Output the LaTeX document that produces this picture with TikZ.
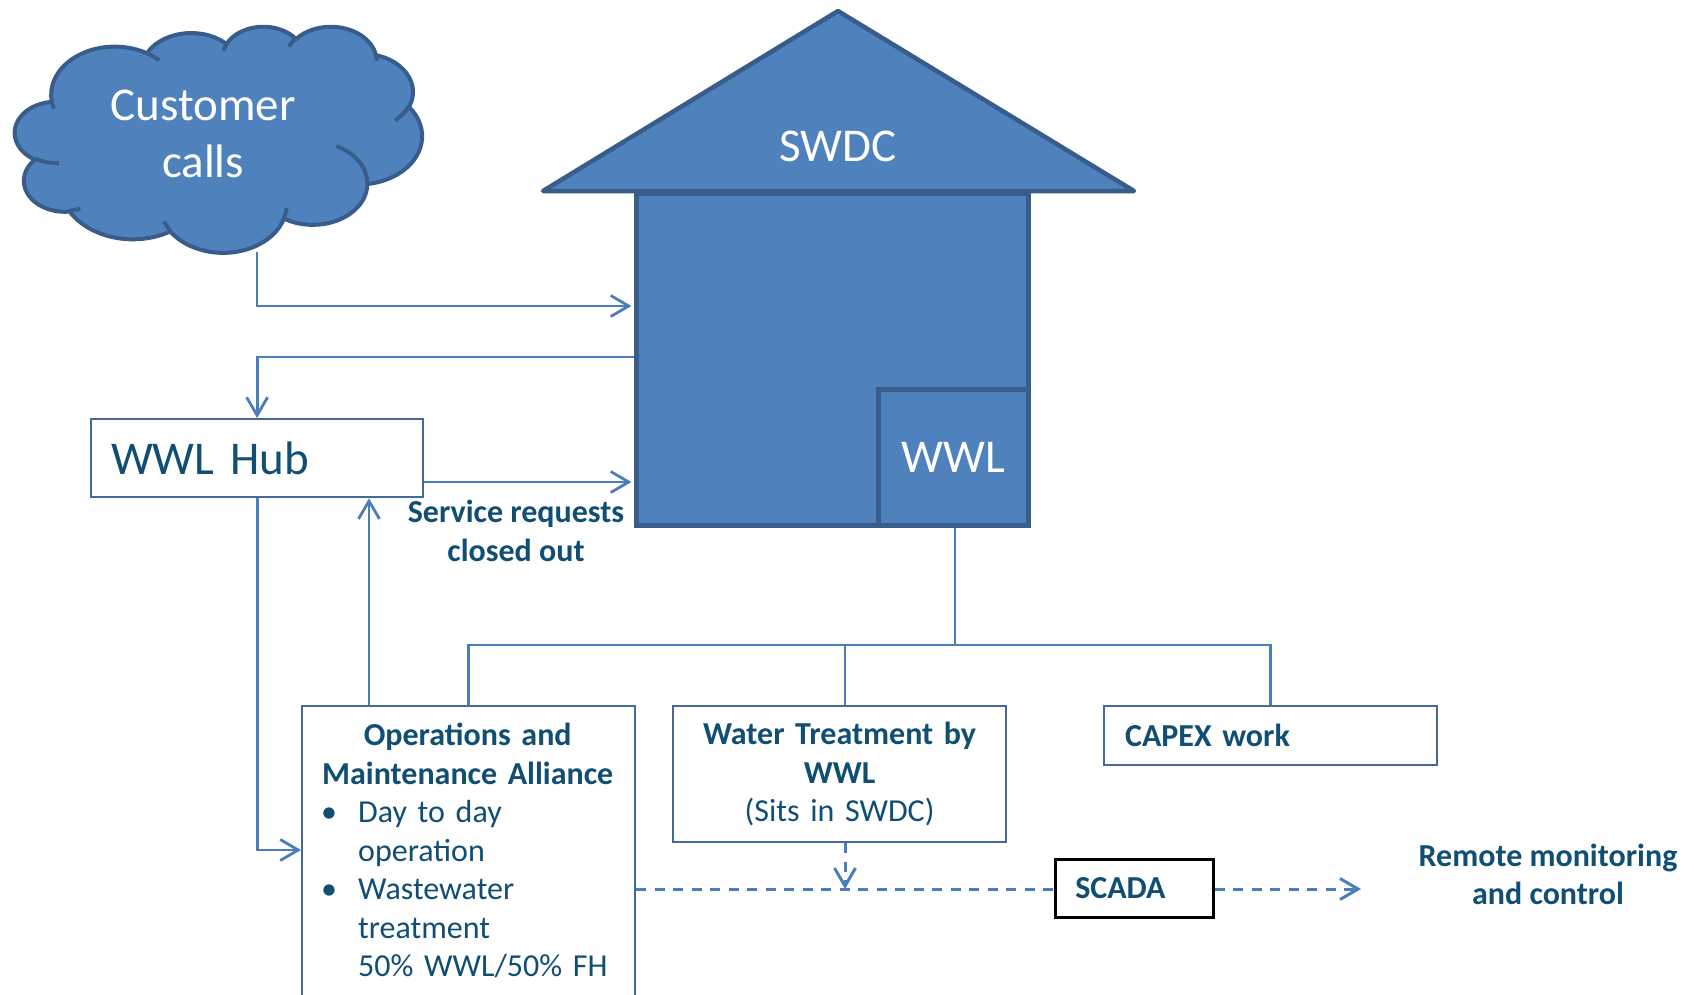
\documentclass[tikz,border=0pt]{standalone}
\usepackage{fontspec}
\setmainfont{Carlito}
\usetikzlibrary{arrows.meta}
\definecolor{shfill}{HTML}{4F81BD}
\definecolor{shline}{HTML}{385D8A}
\definecolor{lncol}{HTML}{4A7EBB}
\definecolor{boxline}{RGB}{70,105,155}
\definecolor{txt}{HTML}{114E73}
% DrawingML arcTo (visual angles) -> TikZ parametric angles
\newcommand\mkarc[5]{%
  \pgfmathsetmacro\cldA{atan2((#2)*sin(#4),(#3)*cos(#4))-(#4)}%
  \pgfmathsetmacro\cldA{(#4)+\cldA-360*round(\cldA/360)}%
  \pgfmathsetmacro\cldB{(#4)+(#5)}%
  \pgfmathsetmacro\cldC{atan2((#2)*sin(\cldB),(#3)*cos(\cldB))-\cldB}%
  \pgfmathsetmacro\cldC{\cldB+\cldC-360*round(\cldC/360)}%
  \pgfmathsetmacro\cldC{\cldC-\cldA}%
  \expandafter\xdef\csname cldS#1\endcsname{\cldA}%
  \expandafter\xdef\csname cldD#1\endcsname{\cldC}%
}
\tikzset{
  shp/.style={fill=shfill, draw=shline, line width=4.5pt},
  cloudshp/.style={fill=shfill, draw=shline, line width=4pt},
  crease/.style={draw=shline, line width=4pt},
  bigtxt/.style={text=white, font=\fontsize{47}{56.4}\selectfont},
  wbox/.style={draw=boxline, line width=2.2pt, fill=white, text=txt,
    font=\fontsize{32}{38.5}\selectfont, inner sep=0pt},
  conn/.style={draw=lncol, line width=2.8pt},
  arr/.style={-{Straight Barb[length=18pt,width=21pt]}},
  dsh/.style={dash pattern=on 10pt off 8.5pt, line width=3pt},
  lbl/.style={text=txt, font=\fontsize{32}{38.5}\selectfont\bfseries, align=center},
}
\begin{document}
\begin{tikzpicture}[x=1pt, y=-1pt]
\useasboundingbox (0,0) rectangle (1694,994);
\clip (0,0) rectangle (1694,994);

% ---- cloud ----
\mkarc{a}{675.3}{919.0}{-190.4875}{123.7805}
\mkarc{b}{533.3}{726.7}{-144.1024}{89.9452}
\mkarc{c}{436.5}{594.5}{-145.8079}{99.7230}
\mkarc{d}{485.7}{659.5}{-130.9861}{117.2417}
\mkarc{e}{533.3}{727.3}{-78.7089}{109.0269}
\mkarc{f}{677.5}{922.0}{-46.2673}{130.2690}
\mkarc{g}{578.5}{786.7}{0.6250}{114.0333}
\mkarc{h}{675.2}{921.5}{22.4516}{115.1726}
\mkarc{i}{772.0}{1054.3}{66.2426}{75.7110}
\mkarc{j}{436.0}{591.8}{-274.9421}{146.7356}
\mkarc{k}{434.5}{594.5}{-246.8285}{152.5189}
\mkarc{l}{434.5}{594.5}{86.7420}{26.4295}
\mkarc{m}{436.0}{591.8}{73.6105}{11.4475}
\mkarc{n}{675.2}{921.5}{137.6242}{14.0811}
\mkarc{o}{675.2}{921.5}{6.4533}{15.9984}
\mkarc{p}{578.5}{786.7}{-70.2924}{70.9174}
\mkarc{q}{533.3}{727.3}{30.3180}{27.7515}
\mkarc{r}{485.7}{659.5}{-13.7443}{14.8589}
\mkarc{s}{485.7}{659.5}{-149.1815}{18.1954}
\mkarc{t}{436.5}{594.5}{-163.4943}{17.6864}
\mkarc{u}{675.3}{919.0}{-66.7070}{12.3194}
\mkarc{v}{675.3}{919.0}{157.6544}{11.8582}
\begin{scope}[shift={(15,26)}, x=0.094213pt, y=-0.052315pt]
\path[cloudshp] (390.0,1437.0)
  arc[start angle=\cldSa, delta angle=\cldDa, x radius=675.3, y radius=919.0]
  arc[start angle=\cldSb, delta angle=\cldDb, x radius=533.3, y radius=726.7]
  arc[start angle=\cldSc, delta angle=\cldDc, x radius=436.5, y radius=594.5]
  arc[start angle=\cldSd, delta angle=\cldDd, x radius=485.7, y radius=659.5]
  arc[start angle=\cldSe, delta angle=\cldDe, x radius=533.3, y radius=727.3]
  arc[start angle=\cldSf, delta angle=\cldDf, x radius=677.5, y radius=922.0]
  arc[start angle=\cldSg, delta angle=\cldDg, x radius=578.5, y radius=786.7]
  arc[start angle=\cldSh, delta angle=\cldDh, x radius=675.2, y radius=921.5]
  arc[start angle=\cldSi, delta angle=\cldDi, x radius=772.0, y radius=1054.3]
  arc[start angle=\cldSj, delta angle=\cldDj, x radius=436.0, y radius=591.8]
  arc[start angle=\cldSk, delta angle=\cldDk, x radius=434.5, y radius=594.5]
  -- cycle;
\path[crease]
  (469.3,2617.7) arc[start angle=\cldSl, delta angle=\cldDl, x radius=434.5, y radius=594.5]
  (692.8,3489.9) arc[start angle=\cldSm, delta angle=\cldDm, x radius=436.0, y radius=591.8]
  (1647.8,3909.0) arc[start angle=\cldSn, delta angle=\cldDn, x radius=675.2, y radius=921.5]
  (2882.7,3475.1) arc[start angle=\cldSo, delta angle=\cldDo, x radius=675.2, y radius=921.5]
  (3412.9,2295.4) arc[start angle=\cldSp, delta angle=\cldDp, x radius=578.5, y radius=786.7]
  (4179.8,1535.4) arc[start angle=\cldSq, delta angle=\cldDq, x radius=533.3, y radius=727.3]
  (3832.4,542.6) arc[start angle=\cldSr, delta angle=\cldDr, x radius=485.7, y radius=659.5]
  (2907.8,395.2) arc[start angle=\cldSs, delta angle=\cldDs, x radius=485.7, y radius=659.5]
  (2214.1,472.0) arc[start angle=\cldSt, delta angle=\cldDt, x radius=436.5, y radius=594.5]
  (1400.0,519.2) arc[start angle=\cldSu, delta angle=\cldDu, x radius=675.3, y radius=919.0]
  (412.7,1578.9) arc[start angle=\cldSv, delta angle=\cldDv, x radius=675.3, y radius=919.0];
\end{scope}
\node[bigtxt, align=center] (cloudtxt) at (203,134) {Customer\\calls};
\coordinate (cloudbot) at (257,252);

% ---- house ----
\node[shp, minimum width=392, minimum height=332, anchor=north west, inner sep=0pt] (house) at (634,191) {};
\node[shp, bigtxt, minimum width=150, minimum height=136, anchor=north west, inner sep=0pt] (wwl) at (876,387) {WWL};
\path[shp, line join=round] (543,191) -- (838,11) -- (1134,191) -- cycle;
\node[bigtxt] (swdc) at (838,146) {SWDC};

% ---- boxes ----
\node[wbox, font=\fontsize{47}{56.4}\selectfont, minimum width=332, minimum height=78,
  text width=292, inner xsep=20pt, align=left, anchor=north west] (hub) at (90,418) {WWL Hub};
\node[wbox, minimum width=333, minimum height=330, anchor=north west] (om) at (301,705) {};
\node[text=txt, font=\fontsize{32}{38.5}\selectfont, text width=333, inner sep=0pt, anchor=north west] (omtxt) at (301,723) {%
  \centering\bfseries Operations and\\Maintenance Alliance\par
  \raggedright\mdseries
  \hspace*{20pt}\makebox[37pt][l]{\textbullet}Day to day\\
  \hspace*{57pt}operation\\
  \hspace*{20pt}\makebox[37pt][l]{\textbullet}Wastewater\\
  \hspace*{57pt}treatment\\
  \hspace*{57pt}50\% WWL/50\% FH\par};
\node[wbox, minimum width=333, minimum height=136, text width=333, align=center, anchor=north west] (wt) at (672,705)
  {\textbf{Water Treatment by}\\\textbf{WWL}\\(Sits in SWDC)};
\node[wbox, minimum width=333, minimum height=59, text width=291, inner xsep=21pt, align=left,
  anchor=north west, font=\fontsize{32}{38.5}\selectfont\bfseries] (capex) at (1103,705) {CAPEX work};
\node[wbox, draw=black, line width=2.5pt, minimum width=158, minimum height=58, text width=118, inner xsep=20pt,
  align=left, anchor=north west, font=\fontsize{32}{38.5}\selectfont\bfseries] (scada) at (1054,858) {SCADA};

\node[lbl] (srq) at (516,531) {Service requests\\closed out};
\node[lbl] (remote) at (1548,874.5) {Remote monitoring\\and control};

% ---- connectors ----
\draw[conn, arr, shorten >=2.5pt] (cloudbot) |- (house.west |- 0,306);
\draw[conn, arr] (house.west |- 0,357) -| (hub.north);
\draw[conn, arr, shorten >=2.5pt] (hub.east |- 0,482) -- (house.west |- 0,482);
\draw[conn, arr] (om.north -| 369,0) -- (hub.south -| 369,0);
\draw[conn, arr] (hub.south) |- (om.west |- 0,850);

\coordinate (junc) at (955,645);
\draw[conn] (junc |- wwl.south) -- (junc);
\draw[conn] (om.north) |- (junc);
\draw[conn] (capex.north) |- (junc);
\draw[conn] (wt.north -| 845,0) |- (junc);

\coordinate (wtarr) at (845,889);
\coordinate (remarr) at (1361,889);
\draw[conn, dsh] (om.east |- 0,889) -- (scada.west |- 0,889);
\draw[conn, dsh, arr] (wt.south -| wtarr) -- (wtarr);
\draw[conn, dsh, arr] (scada.east |- 0,889) -- (remarr);
\end{tikzpicture}
\end{document}
